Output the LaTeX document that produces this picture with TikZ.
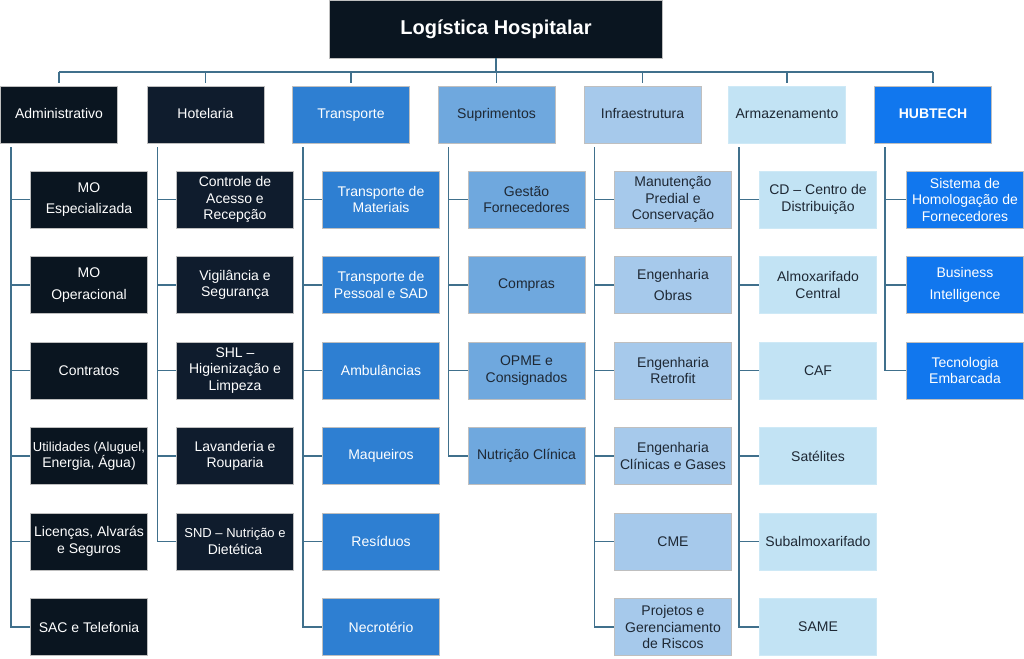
\documentclass[tikz,border=0pt]{standalone}
\usepackage{fontspec}
\setmainfont{Liberation Sans}
\definecolor{navyA}{RGB}{10,21,32}
\definecolor{navyB}{RGB}{15,28,45}
\definecolor{blueT}{RGB}{46,127,210}
\definecolor{blueS}{RGB}{111,168,222}
\definecolor{blueI}{RGB}{166,201,235}
\definecolor{blueA}{RGB}{194,227,244}
\definecolor{blueH}{RGB}{17,119,238}
\definecolor{linkc}{RGB}{64,112,140}
\definecolor{textd}{RGB}{30,40,52}
\newcommand{\sm}{\fontsize{13}{16}\selectfont}

\begin{document}
\begin{tikzpicture}[x=1pt,y=-1pt,
  box/.style={draw=gray!50,line width=.6pt,minimum width=117,minimum height=57,inner sep=1pt,
    align=center,font=\fontsize{14}{16.5}\selectfont},
  admbox/.style={box,fill=navyA,text=white},
  hotbox/.style={box,fill=navyB,text=white},
  trabox/.style={box,fill=blueT,text=white},
  supbox/.style={box,fill=blueS,text=textd},
  infbox/.style={box,fill=blueI,text=textd},
  armbox/.style={box,fill=blueA,text=textd,draw=blueA!80!white},
  hubbox/.style={box,fill=blueH,text=white},
  area/.style={text height=10pt,text depth=3pt},
  link/.style={draw=linkc,line width=1.5pt}]
\useasboundingbox (0,0) rectangle (1024,658);

% top level
\node[admbox,minimum width=333,minimum height=58,font=\fontsize{20}{24}\selectfont\bfseries] (title) at (496,29) {Logística Hospitalar};
\coordinate (bus) at (497,72);

% areas
\node[admbox,area] (adm) at (59,114.5) {Administrativo};
\node[hotbox,area] (hot) at (205.5,114.5) {Hotelaria};
\node[trabox,area] (tra) at (351,114.5) {Transporte};
\node[supbox,area] (sup) at (496.5,114.5) {Suprimentos};
\node[infbox,area] (inf) at (642.5,114.5) {Infraestrutura};
\node[armbox,area] (arm) at (787,114.5) {Armazenamento};
\node[hubbox,area,font=\fontsize{14}{16.5}\selectfont\bfseries] (hub) at (933,114.5) {HUBTECH};

\draw[link] (title.south) -- (title.south |- bus);
\draw[link] (adm.north |- bus) -- (hub.north |- bus);
\foreach \c in {adm,hot,tra,sup,inf,arm,hub}
  \draw[link] (\c.north |- bus) -- ([yshift=3pt]\c.north);

% sub-areas
\foreach \t [count=\i] in {{MO\\[5pt]Especializada},{MO\\[5pt]Operacional},{Contratos},
  {\sm Utilidades (Aluguel,\\Energia, Água)},{Licenças, Alvarás\\e Seguros},{SAC e Telefonia}}
  \node[admbox] (adm\i) at (89,{114+85.5*\i}) {\t};
\foreach \t [count=\i] in {{Controle de\\Acesso e\\Recepção},{Vigilância e\\Segurança},
  {SHL --\\Higienização e\\Limpeza},{Lavanderia e\\Rouparia},{\sm SND -- Nutrição e\\Dietética}}
  \node[hotbox] (hot\i) at (235,{114+85.5*\i}) {\t};
\foreach \t [count=\i] in {{Transporte de\\Materiais},{Transporte de\\Pessoal e SAD},{Ambulâncias},
  {Maqueiros},{Resíduos},{Necrotério}}
  \node[trabox] (tra\i) at (381,{114+85.5*\i}) {\t};
\foreach \t [count=\i] in {{Gestão\\Fornecedores},{Compras},{OPME e\\Consignados},{Nutrição Clínica}}
  \node[supbox] (sup\i) at (526.5,{114+85.5*\i}) {\t};
\foreach \t [count=\i] in {{Manutenção\\Predial e\\Conservação},{Engenharia\\[5pt]Obras},
  {Engenharia\\Retrofit},{Engenharia\\Clínicas e Gases},{CME},{Projetos e\\Gerenciamento\\de Riscos}}
  \node[infbox] (inf\i) at (673,{114+85.5*\i}) {\t};
\foreach \t [count=\i] in {{CD -- Centro de\\Distribuição},{Almoxarifado\\Central},{CAF},
  {Satélites},{Subalmoxarifado},{SAME}}
  \node[armbox] (arm\i) at (818,{114+85.5*\i}) {\t};
\foreach \t [count=\i] in {{Sistema de\\Homologação de\\Fornecedores},{Business\\[5pt]Intelligence},
  {Tecnologia\\Embarcada}}
  \node[hubbox] (hub\i) at (965,{114+85.5*\i}) {\t};

% branches
\foreach \c/\n in {adm/6,hot/5,tra/6,sup/4,inf/6,arm/6,hub/3}
  \foreach \i in {1,...,\n}
    \draw[link] ([shift={(11pt,-4pt)}]\c.south west) |- (\c\i.west);
\end{tikzpicture}
\end{document}
